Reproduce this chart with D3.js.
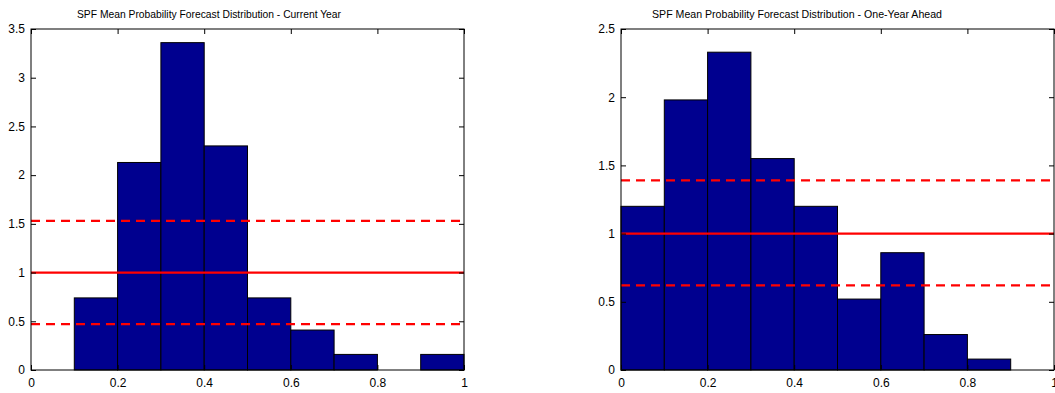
<!DOCTYPE html>
<html><head><meta charset="utf-8">
<script src="https://cdn.jsdelivr.net/npm/d3@7"></script>
<style>
body{margin:0;background:#fff;}
svg{display:block;font-family:"Liberation Sans",Arial,sans-serif;}
</style></head>
<body>
<svg id="c" width="1055" height="393"></svg>
<script>
// Bin edges (left edge of each 0.1-wide bin)
const binStarts = [0,0.1,0.2,0.3,0.4,0.5,0.6,0.7,0.8,0.9];
const binWidth = 0.1;
// Current Year densities
const currentYear = [0,0.74,2.13,3.36,2.30,0.74,0.41,0.16,0,0.16];
const currentRefLines = {solid:1, dashed:[0.47,1.53]};
// One-Year Ahead densities
const oneYearAhead = [1.20,1.98,2.33,1.55,1.20,0.52,0.86,0.26,0.08,0];
const aheadRefLines = {solid:1, dashed:[0.62,1.39]};
const xTicks = [0,0.2,0.4,0.6,0.8,1];
const yTicksCurrent = [0,0.5,1,1.5,2,2.5,3,3.5];
const yTicksAhead = [0,0.5,1,1.5,2,2.5];
const titles = ["SPF Mean Probability Forecast Distribution - Current Year",
                "SPF Mean Probability Forecast Distribution - One-Year Ahead"];

const svg = d3.select("#c");

function panel(cfg){
  const g = svg.append("g");
  const x = d3.scaleLinear().domain([0,1]).range([cfg.x0,cfg.x1]);
  const y = d3.scaleLinear().domain([0,cfg.ymax]).range([cfg.y1,cfg.y0]);
  // bars
  g.selectAll("rect.bar").data(cfg.values.map((v,i)=>({s:binStarts[i],v})))
    .enter().append("rect").attr("class","bar")
    .attr("x",d=>x(d.s)).attr("width",d=>x(d.s+binWidth)-x(d.s))
    .attr("y",d=>y(d.v)).attr("height",d=>y(0)-y(d.v))
    .attr("fill","#00008f").attr("stroke","#000").attr("stroke-width",1);
  // reference lines
  g.append("line").attr("x1",x(0)).attr("x2",x(1))
    .attr("y1",y(cfg.ref.solid)).attr("y2",y(cfg.ref.solid))
    .attr("stroke","#ff0000").attr("stroke-width",2.2);
  cfg.ref.dashed.forEach(v=>{
    g.append("line").attr("x1",x(0)).attr("x2",x(1))
      .attr("y1",y(v)).attr("y2",y(v))
      .attr("stroke","#ff0000").attr("stroke-width",2.2)
      .attr("stroke-dasharray","9,6");
  });
  // frame
  g.append("rect").attr("x",cfg.x0).attr("y",cfg.y0)
    .attr("width",cfg.x1-cfg.x0).attr("height",cfg.y1-cfg.y0)
    .attr("fill","none").attr("stroke","#000").attr("stroke-width",1);
  const tl = 5;
  // axes with inward ticks
  const bottom = d3.axisBottom(x).tickValues(xTicks).tickSizeInner(-tl).tickSizeOuter(0)
    .tickPadding(8).tickFormat(d3.format("~g"));
  const gb = g.append("g").attr("transform",`translate(0,${cfg.y1})`).call(bottom);
  const top = d3.axisTop(x).tickValues(xTicks).tickSizeInner(-tl).tickSizeOuter(0).tickFormat("");
  const gt = g.append("g").attr("transform",`translate(0,${cfg.y0})`).call(top);
  const left = d3.axisLeft(y).tickValues(cfg.yTicks).tickSizeInner(-tl).tickSizeOuter(0)
    .tickPadding(6).tickFormat(d3.format("~g"));
  const gl = g.append("g").attr("transform",`translate(${cfg.x0},0)`).call(left);
  const right = d3.axisRight(y).tickValues(cfg.yTicks).tickSizeInner(-tl).tickSizeOuter(0).tickFormat("");
  const gr = g.append("g").attr("transform",`translate(${cfg.x1},0)`).call(right);
  [gb,gt,gl,gr].forEach(a=>{
    a.select(".domain").remove();
    a.selectAll("line").attr("stroke","#000");
    a.selectAll("text").attr("font-size","12px").attr("fill","#000")
      .attr("font-family","'Liberation Sans',Arial,sans-serif");
  });
  // title
  g.append("text").attr("x",cfg.tx).attr("y",18).attr("text-anchor","middle")
    .attr("font-size","11px").attr("fill","#000")
    .attr("textLength",cfg.tw).attr("lengthAdjust","spacingAndGlyphs")
    .text(cfg.title);
}

panel({x0:31,x1:464,y0:29,y1:370,ymax:3.5,values:currentYear,ref:currentRefLines,
  yTicks:yTicksCurrent,title:titles[0],tx:209,tw:264});
panel({x0:621,x1:1054,y0:29,y1:370,ymax:2.5,values:oneYearAhead,ref:aheadRefLines,
  yTicks:yTicksAhead,title:titles[1],tx:797,tw:290});
</script>
</body></html>
